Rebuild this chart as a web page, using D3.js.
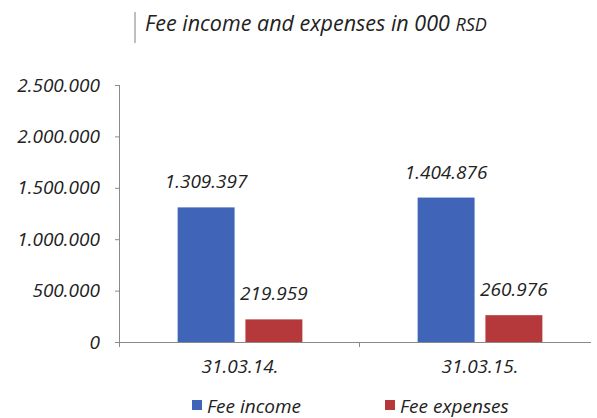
<!DOCTYPE html>
<html>
<head>
<meta charset="utf-8">
<script src="https://cdn.jsdelivr.net/npm/d3@7"></script>
<style>
  body { margin: 0; background: #fff; }
  svg text { font-family: "Open Sans", sans-serif; font-style: italic; fill: #222; }
</style>
</head>
<body>
<div id="chart"></div>
<script>
// data
const categories = ["31.03.14.", "31.03.15."]
const seriesNames = ["Fee income", "Fee expenses"]
const feeIncome = [1309397, 1404876]
const feeExpenses = [219959, 260976]
const yTicks = [0, 500000, 1000000, 1500000, 2000000, 2500000]
const colors = ["#3f64b8", "#b5383b"]

const width = 597, height = 418
const margin = {top: 85, right: -3, bottom: 76, left: 120}

const svg = d3.select("#chart").append("svg")
    .attr("width", width)
    .attr("height", height)

const fmt = d3.formatLocale({decimal: ",", thousands: ".", grouping: [3], currency: ["", ""]}).format(",d")

// title with its little box edge
const defs = svg.append("defs")
defs.append("filter").attr("id", "blur")
    .append("feGaussianBlur").attr("stdDeviation", 1)

svg.append("line")
    .attr("x1", 136).attr("x2", 492)
    .attr("y1", 43).attr("y2", 43)
    .attr("stroke", "#999").attr("stroke-width", 2)
    .attr("filter", "url(#blur)")
svg.append("line")
    .attr("x1", 135).attr("x2", 135)
    .attr("y1", 12).attr("y2", 43)
    .attr("stroke", "#aaa").attr("stroke-width", 1.5)

const title = svg.append("text")
    .attr("x", 145).attr("y", 31)
    .style("font-size", "21.5px")
title.append("tspan").text("Fee income and expenses in 000 ")
title.append("tspan").style("font-size", "18px").text("RSD")

// scales
const x0 = d3.scaleBand()
    .domain(categories)
    .range([margin.left, width - margin.right])

const x1 = d3.scaleBand()
    .domain(seriesNames)
    .range([0, x0.bandwidth()])
    .paddingInner(0.16)
    .paddingOuter(0.85)

const y = d3.scaleLinear()
    .domain([0, 2500000])
    .range([height - margin.bottom, margin.top])

const rows = categories.map((c, i) => ({
    cat: c,
    values: [
        {name: seriesNames[0], value: feeIncome[i], color: colors[0]},
        {name: seriesNames[1], value: feeExpenses[i], color: colors[1]}
    ]
}))

// y axis
const yAxis = svg.append("g")
    .attr("transform", `translate(${margin.left},0)`)
    .call(d3.axisLeft(y).tickValues(yTicks).tickFormat(fmt).tickSize(5).tickPadding(15))
yAxis.select(".domain").attr("stroke", "#8a8a8a").attr("d", `M-0.5,${y(2500000)}V${y(0) + 5}`)
yAxis.selectAll(".tick line").attr("stroke", "#8a8a8a")
yAxis.selectAll(".tick text").style("font-size", "19px").attr("fill", "#222")

// bars
const groups = svg.selectAll(".group")
    .data(rows)
    .enter()
    .append("g")
    .attr("class", "group")
    .attr("transform", d => `translate(${x0(d.cat)},0)`)

groups.selectAll("rect")
    .data(d => d.values)
    .enter()
    .append("rect")
    .attr("x", d => x1(d.name))
    .attr("y", d => y(d.value))
    .attr("width", x1.bandwidth())
    .attr("height", d => y(0) - y(d.value))
    .attr("fill", d => d.color)

groups.selectAll(".label")
    .data(d => d.values)
    .enter()
    .append("text")
    .attr("class", "label")
    .attr("x", d => x1(d.name) + x1.bandwidth() / 2)
    .attr("y", d => y(d.value) - 19)
    .attr("text-anchor", "middle")
    .style("font-size", "19px")
    .text(d => fmt(d.value))

// x axis
const xAxis = svg.append("g")
    .attr("transform", `translate(0,${y(0)})`)
    .call(d3.axisBottom(x0).tickSize(0).tickPadding(14))
xAxis.select(".domain").attr("stroke", "#8a8a8a").attr("d", `M${margin.left},0.5H${width - 6}`)
xAxis.selectAll(".tick text").style("font-size", "19px").attr("fill", "#222").attr("dy", "0.9em")
xAxis.append("line")
    .attr("x1", x0(categories[1]) - 0.5).attr("x2", x0(categories[1]) - 0.5)
    .attr("y1", 0).attr("y2", 5)
    .attr("stroke", "#8a8a8a")

// legend
const legendX = [192, 385]
const legend = svg.selectAll(".legend")
    .data(seriesNames)
    .enter()
    .append("g")
    .attr("class", "legend")
    .attr("transform", (d, i) => `translate(${legendX[i]},400)`)
legend.append("rect")
    .attr("width", 10).attr("height", 10)
    .attr("fill", (d, i) => colors[i])
legend.append("text")
    .attr("x", 15).attr("y", 13)
    .style("font-size", "19px")
    .text(d => d)
</script>
</body>
</html>
